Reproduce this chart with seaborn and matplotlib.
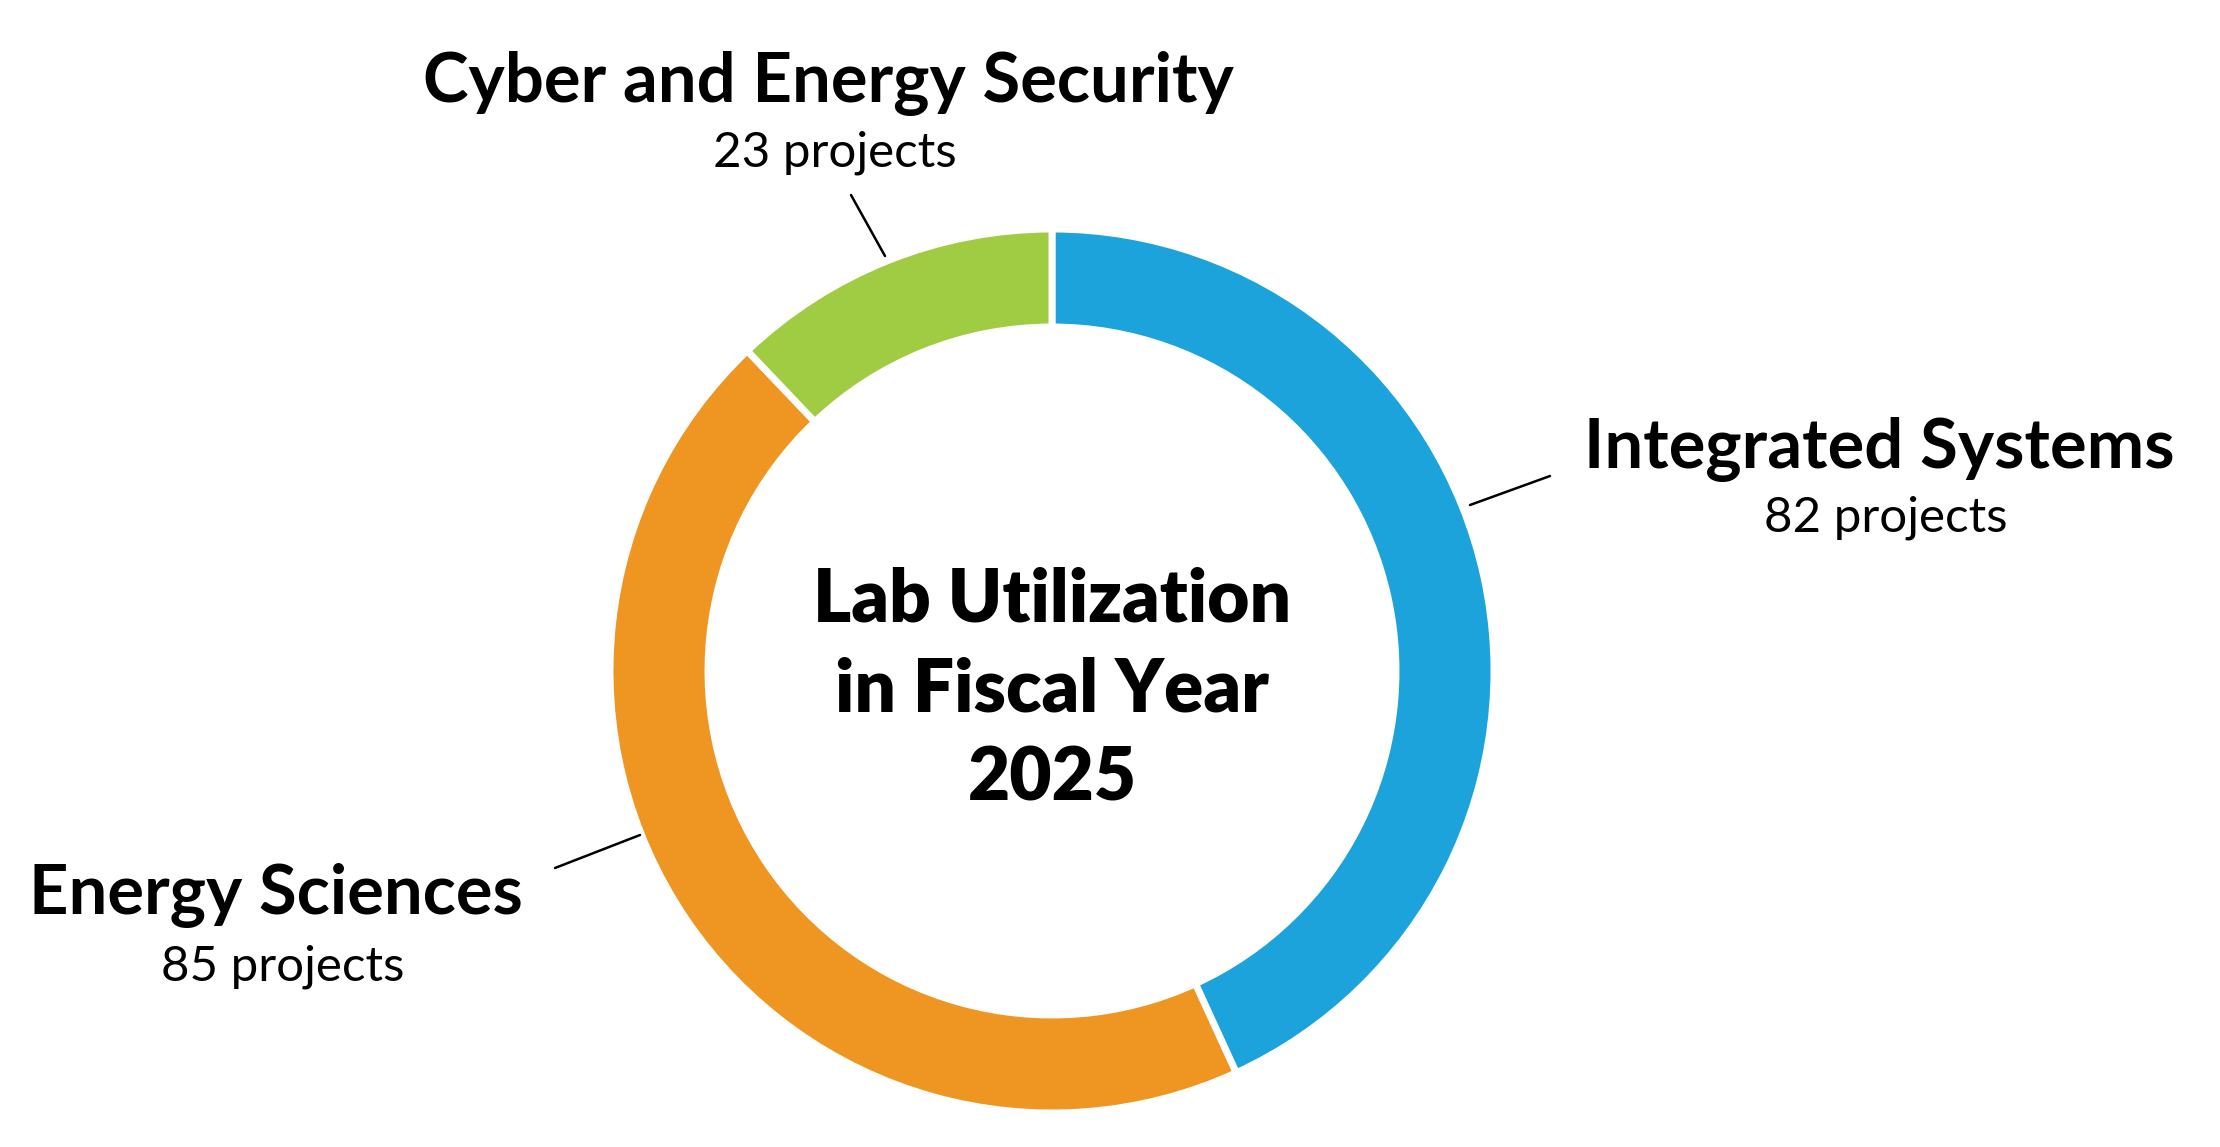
import matplotlib
matplotlib.use("Agg")
import matplotlib.pyplot as plt
import seaborn as sns

# ---- data ----
categories = ["Integrated Systems", "Energy Sciences", "Cyber and Energy Security"]
projects = [82, 85, 23]
sub_labels = ["82 projects", "85 projects", "23 projects"]
colors = ["#1CA3DB", "#EF9521", "#A0CC44"]
center_title = "Lab Utilization\nin Fiscal Year\n2025"

sns.set_theme(style="white")
plt.rcParams["font.family"] = ["Lato", "DejaVu Sans"]

W, H = 2220, 1147
fig = plt.figure(figsize=(W / 100, H / 100), dpi=100)
ax = fig.add_axes([0, 0, 1, 1])

cx, cy = 1052, H - 671
R = 442
ax.pie(projects, colors=sns.color_palette(colors), startangle=90, counterclock=False,
       center=(cx, cy), radius=R, frame=False,
       wedgeprops=dict(width=98, edgecolor="white", linewidth=5))
ax.set_xlim(0, W)
ax.set_ylim(0, H)
ax.set_aspect("equal")
ax.axis("off")

# center title
ax.text(cx, H - 690, center_title, ha="center", va="center", fontsize=52.5,
        fontweight="heavy", color="black", linespacing=1.39)

# label positions (pixel coords, top-origin)
label_pos = {
    "Integrated Systems": (1879, 449, 1886, 518, [(1470, 505), (1550, 476)]),
    "Energy Sciences": (276, 896, 283, 967, [(555, 868), (640, 835)]),
    "Cyber and Energy Security": (828, 83, 835, 153, [(851, 195), (885, 256)]),
}
for cat, sub in zip(categories, sub_labels):
    tx, ty, sx, sy, line = label_pos[cat]
    ax.text(tx, H - ty, cat, ha="center", va="center", fontsize=49.5,
            fontweight="bold", color="black")
    ax.text(sx, H - sy, sub, ha="center", va="center", fontsize=35.5, color="black")
    ax.plot([p[0] for p in line], [H - p[1] for p in line], color="black", lw=1.8)

fig.savefig("out.png", dpi=100, facecolor="white")
